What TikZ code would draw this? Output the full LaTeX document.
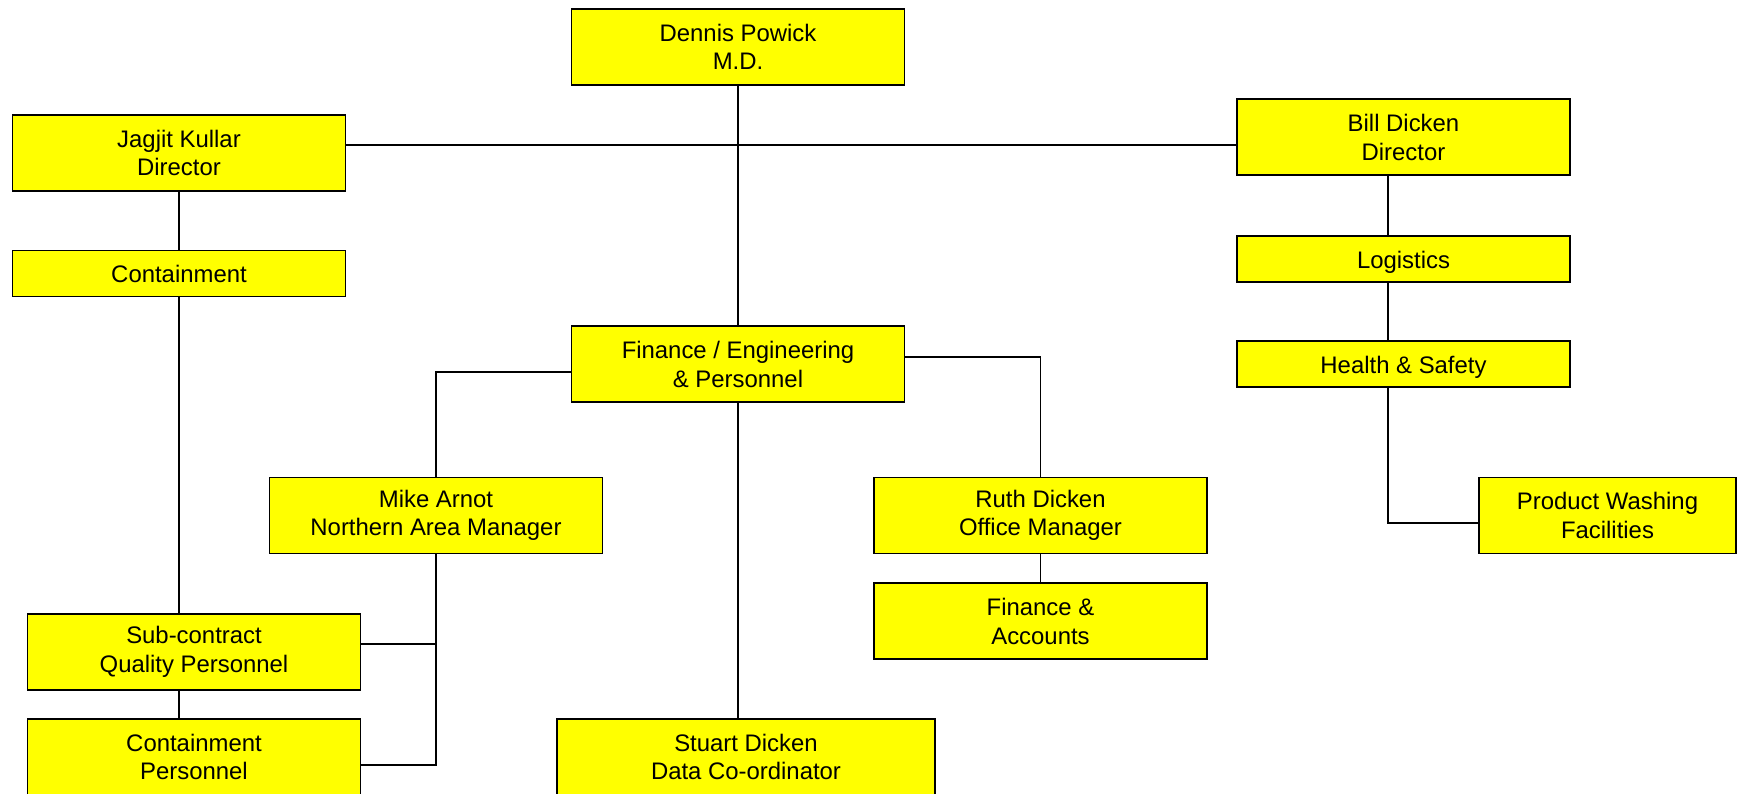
\documentclass[tikz,border=0pt]{standalone}
\usepackage{fontspec}
\setmainfont{Liberation Sans}
\usepackage{tikz}
\usetikzlibrary{positioning}
\definecolor{boxyellow}{RGB}{255,255,0}
\tikzset{postnode/.style={rectangle, draw=black, fill=boxyellow, line width=1.8pt, minimum width=333pt, minimum height=76pt, inner sep=0pt, align=center, font=\fontsize{23.9}{28.5}\selectfont},
smallnode/.style={postnode, minimum height=46pt, text height=23.8pt, text depth=5pt},
link/.style={line width=1.7pt},}

\begin{document}
\begin{tikzpicture}[x=1pt, y=-1pt]
\useasboundingbox[fill=white] (0,0) rectangle (1738,793);
\node [postnode] (dennis) at (738,46.7) {Dennis Powick\\M.D.};
\node [postnode] (jagjit) at (179,153) {Jagjit Kullar\\Director};
\node [postnode] (bill) at (1403.5,137.3) {Bill Dicken\\Director};
\node [smallnode] (contain) at (179,273.5) {Containment};
\node [smallnode] (logistics) at (1403.5,258.7) {Logistics};
\node [smallnode] (health) at (1403.5,364.2) {Health \& Safety};
\node [postnode] (fineng) at (738,364.2) {Finance / Engineering\\\& Personnel};
\node [postnode] (mike) at (436,515.5) {Mike Arnot\\Northern Area Manager};
\node [postnode] (ruth) at (1040.5,515.5) {Ruth Dicken\\Office Manager};
\node [postnode, minimum width=257pt] (washing) at (1607.5,515.5) {Product Washing\\Facilities};
\node [postnode] (finacc) at (1040.5,621.2) {Finance \&\\Accounts};
\node [postnode] (subcon) at (194,651.7) {Sub-contract\\Quality Personnel};
\node [postnode] (contpers) at (194,757) {Containment\\Personnel};
\node [postnode, minimum width=378pt] (stuart) at (746,757) {Stuart Dicken\\Data Co-ordinator};
\coordinate (tie) at (738,144.7);
\draw[link] (dennis) -- (fineng);
\draw[link] (jagjit.east |- tie) -- (bill.west |- tie);
\draw[link] (jagjit) -- (contain);
\draw[link] (contain.south) -- (contain.south |- subcon.north);
\draw[link] (contain.south |- subcon.south) -- (contain.south |- contpers.north);
\draw[link] ([yshift=-7.5pt]fineng.west) -| (mike.north);
\draw[link] ([yshift=7.5pt]fineng.east) -| (ruth.north);
\draw[link] (fineng.south) -- (fineng.south |- stuart.north);
\draw[link] (mike.south) |- ([yshift=-8pt]contpers.east);
\draw[link] ([yshift=8pt]subcon.east) -| (mike.south);
\draw[link] (ruth) -- (finacc);
\draw[link] ([xshift=-15.5pt]bill.south) -- ([xshift=-15.5pt]logistics.north);
\draw[link] ([xshift=-15.5pt]logistics.south) -- ([xshift=-15.5pt]health.north);
\draw[link] ([xshift=-15.5pt]health.south) |- ([yshift=-7.2pt]washing.west);
\end{tikzpicture}
\end{document}
